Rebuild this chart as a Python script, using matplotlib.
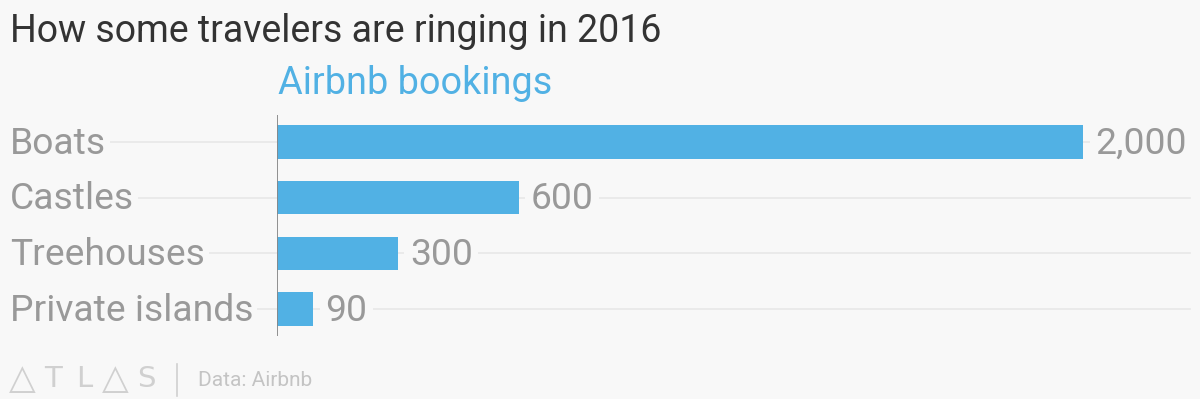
import matplotlib.pyplot as plt

categories = ["Boats", "Castles", "Treehouses", "Private islands"]
bookings = [2000, 600, 300, 90]
value_labels = ["2,000", "600", "300", "90"]

title = "How some travelers are ringing in 2016"
subtitle = "Airbnb bookings"
source = "Data: Airbnb"

font = "Roboto"
bg = "#f8f8f8"
bar_color = "#51b1e4"
label_color = "#999999"

fig = plt.figure(figsize=(12, 3.99), dpi=100, facecolor=bg)
ax = fig.add_axes([277 / 1200, 1 - 336 / 399, 913 / 1200, 221 / 399])
ax.set_facecolor(bg)

ypos = list(range(len(categories)))
ax.barh(ypos, bookings, height=0.6, color=bar_color, zorder=3)

ax.set_xlim(0, 913 / 0.403)
ax.set_ylim(3.485, -0.485)

# light gridlines running under the labels
left_frac = (10 - 277) / 913
for y in ypos:
    ax.axhline(y, xmin=left_frac, xmax=1, color="#e8e8e8", lw=1.2,
               clip_on=False, zorder=1)

for y, cat in zip(ypos, categories):
    ax.text(left_frac, y + 0.03, cat, transform=ax.get_yaxis_transform(),
            ha="left", va="center", fontsize=26.8, color=label_color,
            family=font, zorder=4,
            bbox=dict(boxstyle="square,pad=0.1", fc=bg, ec="none"))

for y, v, lab in zip(ypos, bookings, value_labels):
    ax.text(v + 30, y + 0.03, lab, ha="left", va="center", fontsize=26.8,
            color=label_color, family=font, zorder=4,
            bbox=dict(boxstyle="square,pad=0.15", fc=bg, ec="none"))

ax.axvline(0, ymin=0, ymax=1, color="#888888", lw=1.3, zorder=5)

for s in ax.spines.values():
    s.set_visible(False)
ax.set_xticks([])
ax.set_yticks([])

fig.text(10 / 1200, 1 - 32 / 399, title, ha="left", va="center",
         fontsize=27, color="#333333", family=font)
fig.text(278 / 1200, 1 - 83 / 399, subtitle, ha="left", va="center",
         fontsize=27.3, color=bar_color, family=font)

# footer logo and source
logo = ["\u25b3", "T", "L", "\u25b3", "S"]
for i, ch in enumerate(logo):
    size = 25 if ch == "\u25b3" else 21
    fig.text((22 + i * 31) / 1200, 1 - 379 / 399, ch, ha="center",
             va="center", fontsize=size, color="#d0d0d0",
             family=["DejaVu Sans"])
fig.add_artist(plt.Line2D([177 / 1200, 177 / 1200],
                          [1 - 396 / 399, 1 - 364 / 399],
                          color="#d0d0d0", lw=1.2))
fig.text(198 / 1200, 1 - 381 / 399, source, ha="left", va="center",
         fontsize=15, color="#c4c4c4", family=font)

fig.savefig("out.png", dpi=100, facecolor=bg)
